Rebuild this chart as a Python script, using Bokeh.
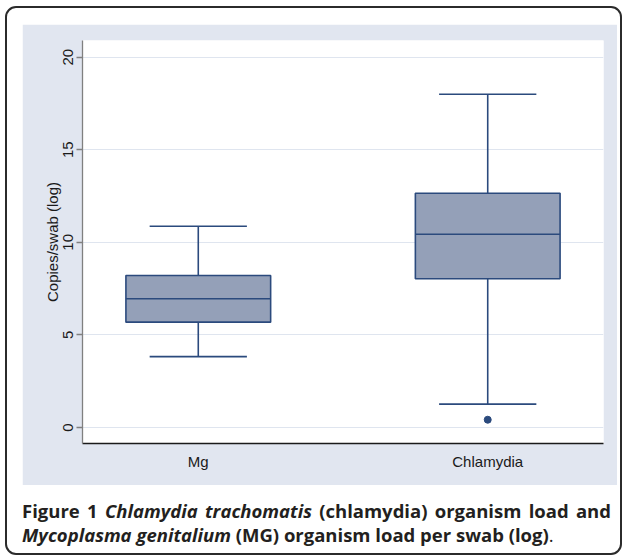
from bokeh.plotting import figure
from bokeh.models import Range1d, FixedTicker, Div
from bokeh.layouts import column
from bokeh.embed import file_html
from bokeh.resources import INLINE

# ---- data ----
categories = ["Mg", "Chlamydia"]
lower_whisker = [3.83, 1.26]
q1 = [5.69, 8.03]
median = [6.95, 10.44]
q3 = [8.21, 12.65]
upper_whisker = [10.87, 18.0]
outlier_cat = ["Chlamydia"]
outlier_val = [0.42]
y_ticks = [0, 5, 10, 15, 20]
y_label = "Copies/swab (log)"

xpos = [i + 1 for i in range(len(categories))]
out_x = [categories.index(c) + 1 for c in outlier_cat]

NAVY = "#2b4a7d"
FILL = "#94a0b8"
BG = "#e1e6f0"
GRID = "#dfe5ef"
BOX_W = 0.5
CAP_HW = 0.168

p = figure(width=595, height=461,
           x_range=Range1d(0.6, 2.4), y_range=Range1d(-0.864, 20.9),
           output_backend="svg", toolbar_location=None,
           min_border_left=60, min_border_right=14, min_border_top=16, min_border_bottom=42,
           background_fill_color="white", border_fill_color=BG, outline_line_color=None,
           margin=(16, 3, 0, 15))

# whiskers
p.segment(x0=xpos, y0=q3, x1=xpos, y1=upper_whisker, line_color=NAVY, line_width=1.6)
p.segment(x0=xpos, y0=q1, x1=xpos, y1=lower_whisker, line_color=NAVY, line_width=1.6)
# caps
p.segment(x0=[x - CAP_HW for x in xpos], y0=upper_whisker,
          x1=[x + CAP_HW for x in xpos], y1=upper_whisker, line_color=NAVY, line_width=1.6)
p.segment(x0=[x - CAP_HW for x in xpos], y0=lower_whisker,
          x1=[x + CAP_HW for x in xpos], y1=lower_whisker, line_color=NAVY, line_width=1.6)
# boxes
p.vbar(x=xpos, width=BOX_W, bottom=q1, top=q3, fill_color=FILL,
       line_color=NAVY, line_width=1.6)
# medians
p.segment(x0=[x - BOX_W / 2 for x in xpos], y0=median,
          x1=[x + BOX_W / 2 for x in xpos], y1=median, line_color=NAVY, line_width=1.6)
# outliers
p.scatter(x=out_x, y=outlier_val, size=7, fill_color=NAVY, line_color=NAVY)

# x axis
xa = p.xaxis[0]
xa.ticker = FixedTicker(ticks=xpos)
xa.major_label_overrides = {x: c for x, c in zip(xpos, categories)}
xa.major_tick_out = 0
xa.major_tick_in = 0
xa.minor_tick_out = 0
xa.minor_tick_in = 0
xa.axis_line_color = "#1a1a1a"
xa.axis_line_width = 1.3
xa.major_label_text_font = "Liberation Sans"
xa.major_label_text_font_size = "15px"
xa.major_label_text_color = "#1a1a1a"
xa.major_label_standoff = 9
p.xgrid.visible = False

# y axis
ya = p.yaxis[0]
ya.ticker = FixedTicker(ticks=y_ticks)
ya.major_label_orientation = "vertical"
ya.major_tick_out = 6
ya.major_tick_in = 0
ya.minor_tick_out = 0
ya.minor_tick_in = 0
ya.major_tick_line_color = "#808080"
ya.major_tick_line_width = 1.3
ya.axis_line_color = "#808080"
ya.axis_line_width = 1.3
ya.major_label_text_font = "Liberation Sans"
ya.major_label_text_font_size = "15px"
ya.major_label_text_color = "#1a1a1a"
ya.major_label_standoff = 3
ya.axis_label = y_label
ya.axis_label_text_font = "Liberation Sans"
ya.axis_label_text_font_size = "15px"
ya.axis_label_text_font_style = "normal"
ya.axis_label_text_color = "#1a1a1a"
ya.axis_label_standoff = 0
p.ygrid.grid_line_color = GRID
p.ygrid.grid_line_width = 1.2

caption_html = ('<div style="width:589px;text-align:justify;">'
                "<b>Figure 1</b> <b><i>Chlamydia trachomatis</i></b> "
                "<b>(chlamydia) organism load and <i>Mycoplasma genitalium</i> "
                "(MG) organism load per swab (log)</b>.</div>")
cap = Div(text=caption_html, width=595, height=48, margin=(14, 3, 6, 15),
          styles={"font-family": "Open Sans", "font-size": "18.5px", "line-height": "24px",
                  "color": "#231f20"})

layout = column(p, cap, margin=(6, 0, 0, 5),
                styles={"border": "2px solid #2b2b2b", "border-radius": "11px"})

open("out.html", "w").write(file_html(layout, INLINE))
